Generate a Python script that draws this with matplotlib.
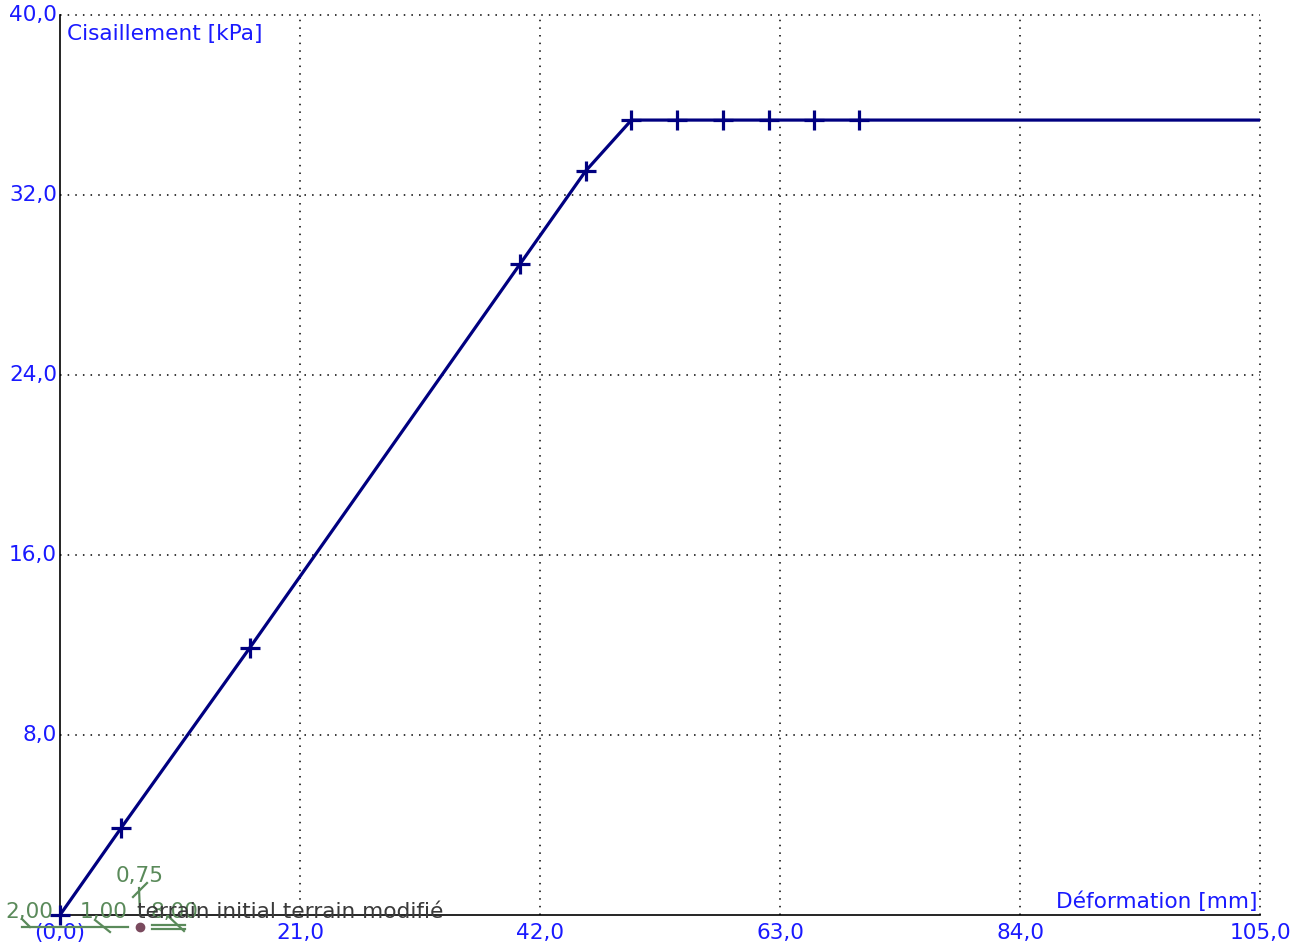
import matplotlib
matplotlib.use("Agg")
import matplotlib.pyplot as plt
from matplotlib.lines import Line2D

# Data
deformation = [0.0, 5.35, 16.6, 40.25, 46.0, 50.0, 54.0, 58.0, 62.0, 66.0, 69.9]
cisaillement = [0.0, 3.87, 11.87, 28.93, 33.07, 35.33, 35.33, 35.33, 35.33, 35.33, 35.33]
x_end = 105.0
x_ticks = [0, 21, 42, 63, 84, 105]
x_tick_labels = ["(0,0)", "21,0", "42,0", "63,0", "84,0", "105,0"]
y_ticks = [8, 16, 24, 32, 40]
y_tick_labels = ["8,0", "16,0", "24,0", "32,0", "40,0"]
x_label = "Déformation [mm]"
y_label = "Cisaillement [kPa]"
legend_values = ["2,00", "1,00", "0,75", "8,00"]
legend_names = "terrain initial terrain modifié"

W, H = 1305, 949
fig = plt.figure(figsize=(W / 100, H / 100), dpi=100)
ax = fig.add_axes([60 / W, 1 - 915 / H, 1200 / W, 900 / H])
ax.set_xlim(0, 105)
ax.set_ylim(0, 40)

blue = "#1a1aff"
navy = "#000080"
green = "#5a8a5a"
fs = 15.6

# grid
for xv in x_ticks[1:]:
    ax.axvline(xv, color="black", lw=1.1, linestyle=(0, (1, 4)), zorder=1, clip_on=False)
for yv in y_ticks:
    ax.axhline(yv, color="black", lw=1.1, linestyle=(0, (1, 4)), zorder=1, clip_on=False)

for s in ["top", "right"]:
    ax.spines[s].set_visible(False)
for s in ["left", "bottom"]:
    ax.spines[s].set_linewidth(1.2)
    ax.spines[s].set_zorder(2)

# curve
ax.plot(deformation + [x_end], cisaillement + [cisaillement[-1]], color=navy, lw=2.3, zorder=3,
        solid_capstyle="butt")
ax.plot(deformation, cisaillement, linestyle="none", marker="+", markersize=15,
        markeredgewidth=2.3, color=navy, zorder=4, clip_on=False)

ax.set_xticks([])
ax.set_yticks([])
ax.tick_params(length=0)

# tick labels
for xv, lab in zip(x_ticks, x_tick_labels):
    ax.text(xv, -0.35, lab, ha="center", va="top", fontsize=fs, color=blue, clip_on=False)
for yv, lab in zip(y_ticks, y_tick_labels):
    ax.text(-0.25, yv, lab, ha="right", va="center", fontsize=fs, color=blue, clip_on=False)

ax.text(0.6, 39.6, y_label, ha="left", va="top", fontsize=fs, color=blue)
ax.text(104.8, 0.12, x_label, ha="right", va="bottom", fontsize=fs, color=blue)

# legend remnants (bottom-left)
def fx(px):
    return px / W

def fy(py):
    return 1 - py / H

fig.text(fx(5), fy(912), legend_values[0], fontsize=fs, color=green, ha="left", va="center")
fig.text(fx(80), fy(912), legend_values[1], fontsize=fs, color=green, ha="left", va="center")
fig.text(fx(116), fy(876), legend_values[2], fontsize=fs, color=green, ha="left", va="center")
fig.text(fx(150), fy(912), legend_values[3], fontsize=fs, color=green, ha="left", va="center")
fig.text(fx(137), fy(912), legend_names, fontsize=fs, color="#3a3a3a", ha="left", va="center")

segs = [
    ([22, 128], [927, 927]),
    ([22, 30], [919, 927]),
    ([95, 110], [920, 932]),
    ([152, 185], [925, 925]),
    ([152, 185], [929, 929]),
    ([168, 184], [916, 931]),
    ([133, 147], [897, 883]),
    ([139, 140], [888, 914]),
]
for xs, ys in segs:
    fig.add_artist(Line2D([fx(v) for v in xs], [fy(v) for v in ys], color=green, lw=1.6))
fig.add_artist(Line2D([fx(140)], [fy(927)], marker="o", markersize=6, color="#7a4a5e", linestyle="none"))

fig.savefig("out.png", dpi=100)
